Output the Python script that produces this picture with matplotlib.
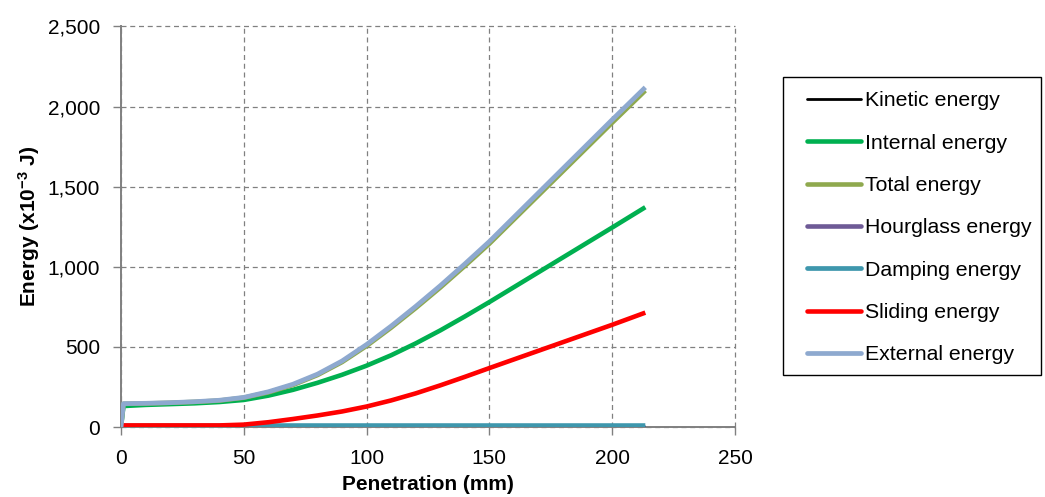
import matplotlib
matplotlib.use("Agg")
import matplotlib.pyplot as plt
from matplotlib.patches import Rectangle
from matplotlib.ticker import FuncFormatter, MultipleLocator

plt.rcParams['font.family'] = ['Liberation Sans', 'DejaVu Sans']
plt.rcParams['mathtext.fontset'] = 'custom'
plt.rcParams['mathtext.bf'] = 'Liberation Sans:bold'
plt.rcParams['mathtext.rm'] = 'Liberation Sans:bold'
plt.rcParams['mathtext.default'] = 'bf'

# penetration (mm)
penetration = [0, 1, 10, 20, 30, 40, 50, 60, 70, 80, 90, 100, 110, 120,
               130, 140, 150, 160, 170, 180, 190, 200, 213.5]

# energies (x10^-3 J)
kinetic = [0] * len(penetration)
internal = [0, 131, 138, 143, 148, 156, 169, 196, 232, 276, 326, 383, 448, 522,
            603, 690, 780, 873, 966, 1059, 1152, 1245, 1372]
total = [0, 145, 147, 151, 157, 165, 183, 216, 262, 324, 405, 506, 620, 742,
         870, 1005, 1144, 1295, 1446, 1597, 1748, 1899, 2100]
hourglass = [0] * len(penetration)
damping = [0, 8, 8, 8, 8, 8, 9, 9, 9, 9, 9, 9, 9, 9,
           9, 9, 9, 9, 9, 9, 9, 9, 9]
sliding = [0, 10, 10, 10, 10, 10, 15, 30, 50, 72, 97, 128, 166, 210,
           260, 313, 368, 422, 476, 530, 584, 638, 714]
external = [0, 146, 148, 152, 158, 167, 185, 220, 267, 330, 412, 515, 630, 753,
            882, 1018, 1158, 1310, 1462, 1614, 1766, 1918, 2120]

series = [
    ("Kinetic energy", kinetic, "#000000", 2.0),
    ("Internal energy", internal, "#00B050", 3.3),
    ("Total energy", total, "#8FA94E", 3.3),
    ("Hourglass energy", hourglass, "#6E5A96", 3.3),
    ("Damping energy", damping, "#3E97AD", 3.4),
    ("Sliding energy", sliding, "#FF0000", 3.3),
    ("External energy", external, "#8EA9CF", 3.4),
]

fig = plt.figure(figsize=(10.45, 4.97), dpi=100)
ax = fig.add_axes([0.1158, 0.1408, 0.5875, 0.8059])

for label, values, color, lw in series:
    ax.plot(penetration, values, color=color, lw=lw, label=label,
            solid_capstyle='butt', solid_joinstyle='round', zorder=3)

ax.set_xlim(0, 250)
ax.set_ylim(0, 2500)
ax.xaxis.set_major_locator(MultipleLocator(50))
ax.yaxis.set_major_locator(MultipleLocator(500))
ax.yaxis.set_major_formatter(FuncFormatter(lambda v, p: f"{v:,.0f}"))

ax.grid(True, color="#808080", linestyle=(0, (4, 3)), linewidth=0.9, clip_on=False)
ax.set_axisbelow(True)
for side in ("top", "right"):
    ax.spines[side].set_visible(False)
for side in ("left", "bottom"):
    ax.spines[side].set_color("#808080")
    ax.spines[side].set_linewidth(1.4)

ax.tick_params(axis='both', direction='out', length=6, width=1, color="#808080",
               labelsize=15)
ax.tick_params(axis='y', pad=9)
ax.tick_params(axis='x', pad=10)

ax.set_xlabel("Penetration (mm)", fontsize=15, fontweight='bold', labelpad=5)
ax.set_ylabel(r"Energy (x10$^{-3}$ J)", fontsize=15, fontweight='bold', labelpad=4)

leg = fig.legend(loc='upper left', bbox_to_anchor=(786 / 1045, 1 - 70 / 497),
                 frameon=False, fontsize=15.3, handlelength=2.55, handletextpad=0.15,
                 labelspacing=1.1, borderpad=0.5)
for line in leg.get_lines():
    line.set_solid_capstyle('round')

fig.patches.append(Rectangle((783 / 1045, 1 - 375 / 497), 258 / 1045, 298 / 497,
                             transform=fig.transFigure, fill=False,
                             edgecolor="black", linewidth=1.0))

fig.savefig("out.png", dpi=100)
